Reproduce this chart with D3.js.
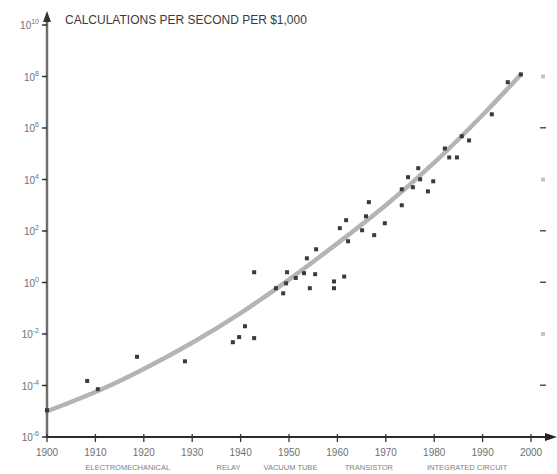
<!DOCTYPE html>
<html>
<head>
<meta charset="utf-8">
<script src="https://cdn.jsdelivr.net/npm/d3@7"></script>
<style>
  body { margin: 0; background: #fff; }
  text { font-family: 'Liberation Sans', Arial, sans-serif; }
</style>
</head>
<body>
<div id="chart"></div>
<script>
// Data
var pointYears = [1900, 1908.3, 1910.5, 1918.6, 1928.5, 1938.4, 1939.7, 1940.9, 1942.8, 1942.8,
  1947.3, 1948.8, 1949.4, 1949.6, 1951.4, 1953.1, 1954.3, 1955.4, 1953.7, 1955.6,
  1959.3, 1959.3, 1961.4, 1962.2, 1960.5, 1961.8, 1965.1, 1965.9, 1966.5, 1967.6,
  1969.8, 1973.3, 1973.3, 1974.6, 1975.6, 1977.1, 1976.7, 1978.7, 1979.8, 1982.2,
  1983.1, 1984.7, 1985.7, 1987.2, 1991.9, 1995.2, 1997.9];
var pointValues = [1.1e-5, 1.5e-4, 7.2e-5, 1.3e-3, 8.7e-4, 4.8e-3, 7.6e-3, 2.0e-2, 6.9e-3, 2.5,
  0.60, 0.38, 0.93, 2.5, 1.5, 2.3, 0.60, 2.1, 8.7, 19.5,
  1.1, 0.60, 1.7, 40, 129, 263, 107, 372, 1318, 69,
  200, 1000, 4170, 12300, 5000, 10200, 27500, 3470, 8500, 1.6e5,
  7.2e4, 7.2e4, 4.8e5, 3.3e5, 3.4e6, 6.0e7, 1.2e8];

// trend curve, read at each decade
var trendYears = [1900, 1910, 1920, 1930, 1940, 1950, 1960, 1970, 1980, 1990, 1997.9];
var trendValues = [1e-5, 5.6e-5, 4.4e-4, 4.6e-3, 6.5e-2, 1.3, 33, 1000, 4.5e4, 3.2e6, 1.2e8];

var yearTicks = [1900, 1910, 1920, 1930, 1940, 1950, 1960, 1970, 1980, 1990, 2000];
var powerTicks = [-6, -4, -2, 0, 2, 4, 6, 8, 10];

var eraLabels = ['ELECTROMECHANICAL', 'RELAY', 'VACUUM TUBE', 'TRANSISTOR', 'INTEGRATED CIRCUIT'];
var eraYears = [1916.7, 1937.5, 1950.3, 1966.5, 1986.8];

// odd little marks down the right edge
var sideMarkPowers = [8, 6, 4, 2, 0, -2, -4];
var sideMarkKinds = ['sq', 'dash', 'sq', 'dash', 'dash', 'sq', 'dash'];

var width = 557,
  height = 474,
  title = 'CALCULATIONS PER SECOND PER $1,000';

var x = d3.scaleLinear().domain([1900, 2000]).range([47, 531]);
var y = d3.scaleLog().domain([1e-6, 1e10]).range([437, 25]);

var svg = d3.select('#chart').append('svg')
  .attr('width', width)
  .attr('height', height);

// Title
svg.append('text')
  .attr('x', 65)
  .attr('y', 24)
  .style('font-size', '12px')
  .style('fill', '#3a3a3a')
  .text(title);

// Trend curve
var line = d3.line()
  .x(function (d, i) { return x(trendYears[i]); })
  .y(function (d) { return y(d); })
  .curve(d3.curveNatural);

svg.append('path')
  .datum(trendValues)
  .attr('d', line)
  .style('fill', 'none')
  .style('stroke', '#b4b4b4')
  .style('stroke-width', 4.5)
  .style('stroke-linecap', 'round');

// Y axis
svg.append('line')
  .attr('x1', x(1900)).attr('x2', x(1900))
  .attr('y1', y(1e-6)).attr('y2', 20)
  .style('stroke', '#6e6e6e')
  .style('stroke-width', 2.5);

svg.append('path')
  .attr('d', 'M' + (x(1900) - 4) + ',22L' + x(1900) + ',11L' + (x(1900) + 4) + ',22Z')
  .style('fill', '#333');

var yTick = svg.selectAll('.ytick').data(powerTicks).enter().append('g')
  .attr('class', 'ytick')
  .attr('transform', function (d) { return 'translate(0,' + y(Math.pow(10, d)) + ')'; });

yTick.append('line')
  .attr('x1', x(1900) - 5).attr('x2', x(1900))
  .style('stroke', '#333')
  .style('stroke-width', 1.5);

var yLab = yTick.append('text')
  .attr('x', 39)
  .attr('y', 4)
  .attr('text-anchor', 'end')
  .style('fill', '#707070')
  .style('font-size', '10px');

yLab.append('tspan').text('10');
yLab.append('tspan')
  .attr('dy', -5)
  .style('font-size', '7px')
  .text(function (d) { return d; });

// X axis
svg.append('line')
  .attr('x1', x(1900) - 1).attr('x2', 550)
  .attr('y1', y(1e-6)).attr('y2', y(1e-6))
  .style('stroke', '#2a2a2a')
  .style('stroke-width', 2);

svg.append('path')
  .attr('d', 'M545,' + (y(1e-6) - 4) + 'L557,' + y(1e-6) + 'L545,' + (y(1e-6) + 4) + 'Z')
  .style('fill', '#222');

var xTick = svg.selectAll('.xtick').data(yearTicks).enter().append('g')
  .attr('class', 'xtick')
  .attr('transform', function (d) { return 'translate(' + x(d) + ',' + y(1e-6) + ')'; });

xTick.append('line')
  .attr('y1', -3).attr('y2', 5)
  .style('stroke', '#333')
  .style('stroke-width', 1.3);

xTick.append('text')
  .attr('y', 19)
  .attr('text-anchor', 'middle')
  .style('fill', '#707070')
  .style('font-size', '10px')
  .text(String);

// Era labels
svg.selectAll('.era').data(eraLabels).enter().append('text')
  .attr('class', 'era')
  .attr('x', function (d, i) { return x(eraYears[i]); })
  .attr('y', 470)
  .attr('text-anchor', 'middle')
  .style('fill', '#808080')
  .style('font-size', '7.5px')
  .text(String);

// Data points
svg.selectAll('.pt').data(pointValues).enter().append('rect')
  .attr('class', 'pt')
  .attr('x', function (d, i) { return x(pointYears[i]) - 2; })
  .attr('y', function (d) { return y(d) - 2; })
  .attr('width', 4)
  .attr('height', 4)
  .style('fill', '#3a3a3a');

// Right edge marks
svg.selectAll('.side').data(sideMarkPowers).enter().append('rect')
  .attr('class', 'side')
  .attr('x', function (d, i) { return sideMarkKinds[i] === 'sq' ? 541 : 540; })
  .attr('y', function (d, i) { return y(Math.pow(10, d)) - (sideMarkKinds[i] === 'sq' ? 2 : 1); })
  .attr('width', function (d, i) { return sideMarkKinds[i] === 'sq' ? 4 : 6; })
  .attr('height', function (d, i) { return sideMarkKinds[i] === 'sq' ? 4 : 1.5; })
  .style('fill', function (d, i) { return sideMarkKinds[i] === 'sq' ? '#c4c4c4' : '#555'; });
</script>
</body>
</html>
